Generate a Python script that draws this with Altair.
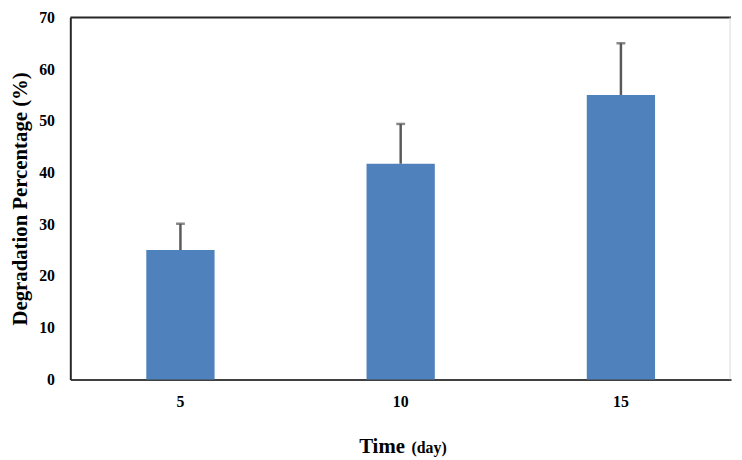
import altair as alt
import pandas as pd

days = ["5", "10", "15"]
degradation = [25.0, 41.7, 55.0]
upper = [30.1, 49.4, 65.0]
y_ticks = [0, 10, 20, 30, 40, 50, 60, 70]

df = pd.DataFrame({"day": days, "deg": degradation, "upper": upper})
one = pd.DataFrame({"a": [0]})

W, H = 668, 366
FONT = "Liberation Serif"

x_enc = alt.X(
    "day:N", sort=days,
    scale=alt.Scale(paddingInner=0.69, paddingOuter=0.345),
    axis=alt.Axis(title=None, labelAngle=0, ticks=False, labelFont=FONT,
                  labelFontSize=16, labelFontWeight="bold", labelColor="black",
                  labelPadding=14, domainColor="#404040", domainWidth=2),
)

y_axis = alt.Axis(values=y_ticks, title="Degradation  Percentage (%)", grid=False,
                  ticks=False, labelPadding=16, labelFont=FONT, labelFontSize=16,
                  labelFontWeight="bold", labelColor="black",
                  titleX=-44, titleY=H / 2, titleAngle=-90, titleBaseline="alphabetic",
                  titleAlign="center", titleFont=FONT, titleFontSize=21,
                  titleFontWeight="bold", titleColor="black",
                  domainColor="#262626", domainWidth=2)
y_scale = alt.Scale(domain=[0, 70], nice=False)

bars = alt.Chart(df).mark_bar(color="#4F81BD").encode(
    x=x_enc, y=alt.Y("deg:Q", scale=y_scale, axis=y_axis)
)

err = alt.Chart(df).mark_rule(color="#595959", strokeWidth=2.5).encode(
    x=x_enc, y=alt.Y("upper:Q", scale=y_scale, axis=y_axis), y2="deg:Q"
)

caps = alt.Chart(df).mark_tick(color="#595959", thickness=2.5, size=9, orient="horizontal").encode(
    x=x_enc, y=alt.Y("upper:Q", scale=y_scale, axis=y_axis)
)

top_line = alt.Chart(one).mark_rule(color="#262626", strokeWidth=2).encode(
    x=alt.value(0), x2=alt.value(W), y=alt.value(0)
)
right_line = alt.Chart(one).mark_rule(color="#d9d9d9", strokeWidth=1).encode(
    x=alt.value(W - 1), y=alt.value(0), y2=alt.value(H)
)

t_time = alt.Chart(one).mark_text(text="Time", font=FONT, fontSize=21, fontWeight="bold",
                                  align="left", baseline="alphabetic", color="black").encode(
    x=alt.value(292), y=alt.value(440)
)
t_day = alt.Chart(one).mark_text(text="(day)", font=FONT, fontSize=16, fontWeight="bold",
                                 align="left", baseline="alphabetic", color="black").encode(
    x=alt.value(345), y=alt.value(440)
)

chart = alt.layer(bars, err, caps, top_line, right_line, t_time, t_day).properties(
    width=W, height=H,
    autosize=alt.AutoSizeParams(type="none"),
    padding={"left": 63, "top": 7, "right": 3, "bottom": 79},
    background="white",
).configure_view(stroke=None)

chart.save("out.html", embed_options={"renderer": "svg", "actions": False})
